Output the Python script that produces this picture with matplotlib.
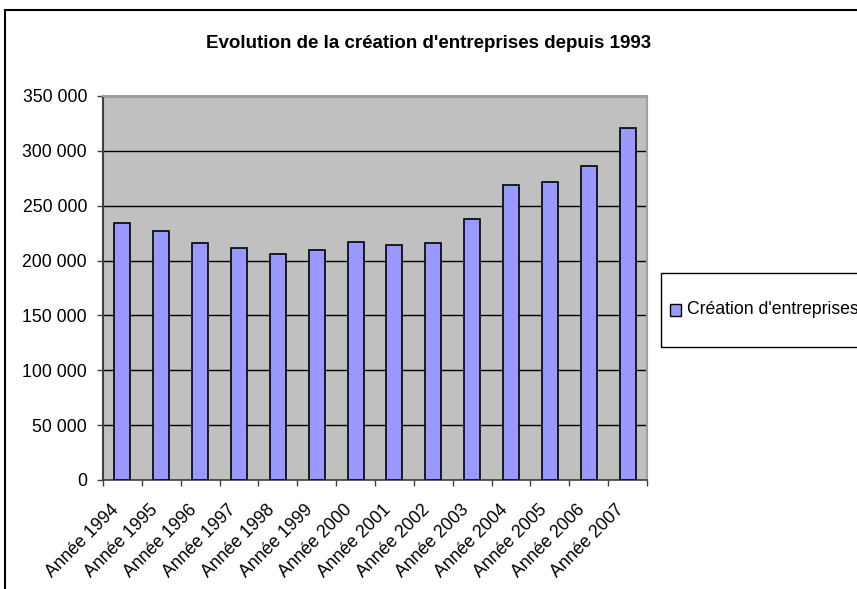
import matplotlib.pyplot as plt
from matplotlib.patches import Rectangle
from matplotlib.ticker import FuncFormatter, MultipleLocator
from matplotlib.transforms import ScaledTranslation

years = ["Année 1994", "Année 1995", "Année 1996", "Année 1997", "Année 1998",
         "Année 1999", "Année 2000", "Année 2001", "Année 2002", "Année 2003",
         "Année 2004", "Année 2005", "Année 2006", "Année 2007"]
creations = [234600, 226700, 215800, 211200, 206000, 210000, 216700,
             214600, 215800, 237900, 269200, 271300, 285900, 321100]
series_name = "Création d'entreprises"
title = "Evolution de la création d'entreprises depuis 1993"

plt.rcParams["font.family"] = ["Liberation Sans", "DejaVu Sans"]

fig = plt.figure(figsize=(8.57, 5.89), dpi=100)
ax = fig.add_axes([103 / 857, 1 - 480 / 589, 544 / 857, 384 / 589])

bar_color = "#9999ff"
positions = list(range(len(years)))
ax.bar(positions, creations, width=0.41, color=bar_color,
       edgecolor="black", linewidth=1.2, zorder=3)

ax.set_facecolor("#c0c0c0")
ax.set_xlim(-0.5, len(years) - 0.5)
ax.set_ylim(0, 350000)
ax.yaxis.set_major_locator(MultipleLocator(50000))
ax.yaxis.set_major_formatter(FuncFormatter(lambda v, p: "{:,.0f}".format(v).replace(",", " ")))
ax.grid(axis="y", color="black", linewidth=1.0, zorder=1)

# ticks between categories (Excel style)
ax.set_xticks([p - 0.5 for p in range(len(years) + 1)])
ax.set_xticklabels([])
ax.tick_params(axis="x", length=4.5, width=1, color="#404040")
ax.tick_params(axis="y", labelsize=12.7, length=4.5, width=1, color="#404040", pad=7)

# category labels, rotated, hanging below each bar
label_pos = ax.get_xaxis_transform() + ScaledTranslation(-12 / 100, -21 / 100, fig.dpi_scale_trans)
for p, name in zip(positions, years):
    ax.text(p, 0, name, transform=label_pos, rotation=45, ha="right", va="top",
            rotation_mode="anchor", fontsize=12.7)

for side in ["top", "right"]:
    ax.spines[side].set_color("#a0a0a0")
    ax.spines[side].set_linewidth(1.5)
ax.spines["left"].set_color("#404040")
ax.spines["left"].set_linewidth(1.5)
ax.spines["bottom"].set_color("#404040")
ax.spines["bottom"].set_linewidth(1.2)

fig.text(429 / 857, 1 - 43 / 589, title, ha="center", va="center",
         fontsize=13.5, fontweight="bold")

# chart border, cut by the picture edges
fig.patches.append(Rectangle((5 / 857, -0.1), 1.0, 1 - 10 / 589 + 0.1,
                             transform=fig.transFigure, fill=False,
                             edgecolor="black", linewidth=1.5))

# legend box, also cut on the right
fig.patches.append(Rectangle((661 / 857, 1 - 347 / 589), 0.5, 74 / 589,
                             transform=fig.transFigure, facecolor="white",
                             edgecolor="black", linewidth=1.0))
fig.patches.append(Rectangle((670 / 857, 1 - 316 / 589), 11 / 857, 12 / 589,
                             transform=fig.transFigure, facecolor=bar_color,
                             edgecolor="black", linewidth=1.0))
fig.text(687 / 857, 1 - 310 / 589, series_name, ha="left", va="center",
         fontsize=12.7)

fig.savefig("out.png", dpi=100)
